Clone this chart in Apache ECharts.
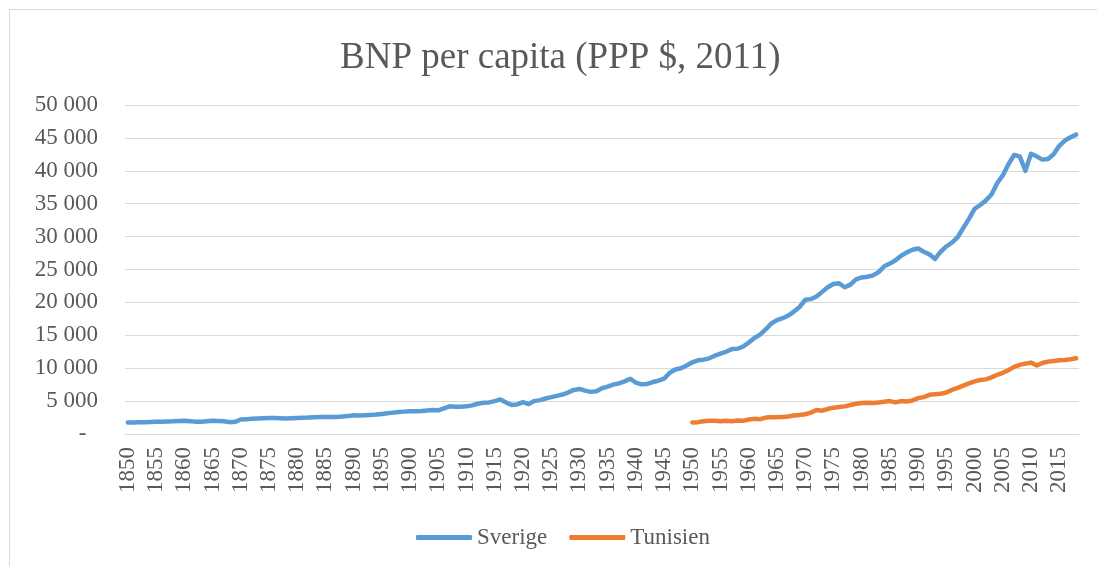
<!DOCTYPE html>
<html lang="sv">

<head>
    <meta charset="UTF-8">
    <title>BNP per capita</title>
    <script src="https://cdn.jsdelivr.net/npm/echarts@6/dist/echarts.min.js"></script>
    <style>
        html, body { margin: 0; padding: 0; background: #fff; }
        #chart { width: 1097px; height: 566px; }
    </style>
</head>

<body>
    <div id="chart"></div>

    <script type="text/javascript">
        // år 1850 - 2018
        var firstYear = 1850;
        var lastYear = 2018;
        var years = [];
        for (var y = firstYear; y <= lastYear; y++) years.push(String(y));

        // Sverige, 1850-2018
        var sverige = [
            1750, 1760, 1780, 1800, 1830, 1850, 1880, 1900, 1920, 1960,   // 1850
            2000, 1950, 1880, 1870, 1930, 2000, 1980, 1950, 1800, 1850,   // 1860
            2200, 2250, 2300, 2350, 2400, 2420, 2450, 2400, 2350, 2400,   // 1870
            2450, 2480, 2500, 2550, 2570, 2600, 2580, 2600, 2650, 2720,   // 1880
            2850, 2800, 2850, 2900, 2950, 3050, 3150, 3250, 3350, 3400,   // 1890
            3450, 3450, 3500, 3580, 3650, 3600, 3900, 4200, 4150, 4150,   // 1900
            4200, 4350, 4600, 4750, 4800, 5000, 5250, 4800, 4400, 4500,   // 1910
            4850, 4550, 5000, 5150, 5400, 5600, 5800, 6000, 6300, 6700,   // 1920
            6850, 6600, 6400, 6500, 6950, 7200, 7500, 7700, 8000, 8400,   // 1930
            7800, 7550, 7600, 7900, 8100, 8400, 9300, 9800, 10000, 10400, // 1940
            10900, 11200, 11300, 11500, 11900, 12200, 12500, 12900, 12950, 13300, // 1950
            13900, 14600, 15100, 15900, 16800, 17300, 17600, 18000, 18600, 19300, // 1960
            20400, 20500, 20900, 21600, 22300, 22800, 22900, 22300, 22700, 23500, // 1970
            23800, 23900, 24100, 24600, 25500, 25900, 26400, 27100, 27600, 28000, // 1980
            28200, 27700, 27300, 26600, 27700, 28500, 29100, 29900, 31300, 32700, // 1990
            34200, 34800, 35500, 36400, 38100, 39300, 41000, 42400, 42200, 40000, // 2000
            42600, 42200, 41700, 41800, 42500, 43800, 44600, 45100, 45500         // 2010
        ];

        // Tunisien, 1950-2018
        var tunisienStart = 1950;
        var tunisien = [
            1760, 1800, 1950, 2000, 2000, 1950, 2000, 1950, 2050, 2000,   // 1950
            2200, 2300, 2250, 2500, 2550, 2550, 2600, 2650, 2800, 2900,   // 1960
            3000, 3250, 3650, 3550, 3800, 4000, 4100, 4200, 4400, 4600,   // 1970
            4700, 4750, 4700, 4800, 4900, 5000, 4800, 5000, 4950, 5100,   // 1980
            5450, 5600, 5950, 6050, 6100, 6300, 6700, 7000, 7350, 7700,   // 1990
            8000, 8200, 8300, 8600, 9000, 9300, 9700, 10200, 10500, 10700, // 2000
            10850, 10400, 10800, 11000, 11100, 11200, 11250, 11350, 11500  // 2010
        ];

        var yTicks = [0, 5000, 10000, 15000, 20000, 25000, 30000, 35000, 40000, 45000, 50000];

        // tom före 1950
        var tunisienData = [];
        for (var i = 0; i < years.length; i++) {
            var k = firstYear + i - tunisienStart;
            tunisienData.push(k >= 0 ? tunisien[k] : null);
        }

        var serif = '"Liberation Serif", "Times New Roman", serif';
        var grey = '#595959';

        var myChart = echarts.init(document.getElementById('chart'));
        var option = {
            backgroundColor: '#fff',
            animation: false,
            graphic: [{
                type: 'rect',
                shape: { x: 9.5, y: 9.5, width: 1200, height: 700 },
                style: { fill: 'none', stroke: '#d9d9d9', lineWidth: 1 },
                silent: true
            }],
            title: {
                text: 'BNP per capita (PPP $, 2011)',
                left: 335,
                top: 35,
                textStyle: { fontFamily: serif, fontSize: 37, fontWeight: 'normal', color: grey }
            },
            legend: {
                top: 521,
                left: 411,
                icon: 'roundRect',
                itemWidth: 56,
                itemHeight: 5,
                itemGap: 22,
                textStyle: { fontFamily: serif, fontSize: 23, color: grey },
                data: ['Sverige', 'Tunisien']
            },
            grid: { left: 125, right: 18, top: 105, bottom: 132 },
            xAxis: {
                type: 'category',
                data: years,
                boundaryGap: true,
                axisLine: { lineStyle: { color: '#d9d9d9' } },
                axisTick: { show: false },
                axisLabel: {
                    interval: 4,
                    rotate: 90,
                    margin: 13,
                    fontFamily: serif,
                    fontSize: 23,
                    color: grey
                }
            },
            yAxis: {
                type: 'value',
                min: yTicks[0],
                max: yTicks[yTicks.length - 1],
                interval: 5000,
                axisLine: { show: false },
                axisTick: { show: false },
                splitLine: { lineStyle: { color: '#d9d9d9', width: 1 } },
                axisLabel: {
                    margin: 27,
                    fontFamily: serif,
                    fontSize: 23,
                    color: grey,
                    formatter: function (v) {
                        if (v === 0) return '-\u2002';
                        var s = String(v);
                        return s.slice(0, s.length - 3) + ' ' + s.slice(-3);
                    }
                }
            },
            series: [{
                name: 'Sverige',
                type: 'line',
                data: sverige,
                symbol: 'none',
                color: '#5b9bd5',
                lineStyle: { width: 4.5, cap: 'round', join: 'round' }
            }, {
                name: 'Tunisien',
                type: 'line',
                data: tunisienData,
                symbol: 'none',
                color: '#ed7d31',
                lineStyle: { width: 4.5, cap: 'round', join: 'round' }
            }]
        };
        myChart.setOption(option);
    </script>
</body>

</html>
